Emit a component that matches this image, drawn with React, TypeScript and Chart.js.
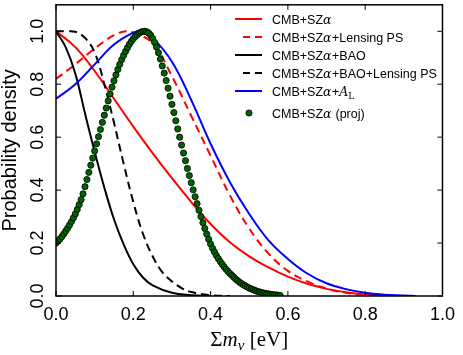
import React, { useEffect, useRef } from "react";
import { Chart, registerables } from "chart.js";
Chart.register(...registerables);

// ---- tick labels ----
const X_TICKS = [0.0, 0.2, 0.4, 0.6, 0.8, 1.0];
const Y_TICKS = [0.0, 0.2, 0.4, 0.6, 0.8, 1.0];

// ---- series names ----
const NAMES = [
  "CMB+SZα",
  "CMB+SZα+Lensing PS",
  "CMB+SZα+BAO",
  "CMB+SZα+BAO+Lensing PS",
  "CMB+SZα+A_L",
  "CMB+SZα (proj)",
];

// ---- CMB+SZα (red solid) ----
const cmbX = [0, 0.05, 0.1, 0.15, 0.2, 0.25, 0.3, 0.35, 0.4, 0.45, 0.5, 0.55, 0.6, 0.65, 0.7, 0.75, 0.8, 0.85, 0.9];
const cmbY = [1.0, 0.94, 0.85, 0.745, 0.64, 0.54, 0.445, 0.355, 0.272, 0.203, 0.15, 0.108, 0.073, 0.046, 0.027, 0.014, 0.006, 0.002, 0.0];

// ---- CMB+SZα+Lensing PS (red dashed) ----
const lensX = [0, 0.05, 0.1, 0.15, 0.18, 0.2, 0.25, 0.3, 0.35, 0.4, 0.45, 0.5, 0.55, 0.6, 0.65, 0.7, 0.75, 0.8, 0.85, 0.9];
const lensY = [0.82, 0.875, 0.935, 0.985, 1.0, 0.995, 0.955, 0.83, 0.68, 0.53, 0.38, 0.255, 0.16, 0.095, 0.055, 0.028, 0.012, 0.004, 0.001, 0.0];

// ---- CMB+SZα+BAO (black solid) ----
const baoX = [0, 0.025, 0.05, 0.075, 0.1, 0.125, 0.15, 0.175, 0.2, 0.225, 0.25, 0.3, 0.35, 0.4];
const baoY = [1.0, 0.94, 0.84, 0.69, 0.545, 0.41, 0.29, 0.195, 0.12, 0.07, 0.04, 0.012, 0.003, 0.0];

// ---- CMB+SZα+BAO+Lensing PS (black dashed) ----
const baoLensX = [0, 0.025, 0.05, 0.075, 0.1, 0.125, 0.15, 0.175, 0.2, 0.225, 0.25, 0.275, 0.3, 0.325, 0.35, 0.4, 0.45];
const baoLensY = [1.0, 1.0, 0.998, 0.975, 0.92, 0.8, 0.655, 0.5, 0.355, 0.235, 0.15, 0.09, 0.055, 0.03, 0.015, 0.003, 0.0];

// ---- CMB+SZα+A_L (blue) ----
const alX = [0, 0.05, 0.1, 0.15, 0.2, 0.22, 0.25, 0.3, 0.35, 0.4, 0.45, 0.5, 0.55, 0.6, 0.65, 0.7, 0.75, 0.8, 0.85, 0.9, 0.93];
const alY = [0.745, 0.8, 0.875, 0.95, 0.995, 1.0, 0.975, 0.885, 0.74, 0.575, 0.43, 0.31, 0.21, 0.14, 0.085, 0.048, 0.026, 0.012, 0.005, 0.002, 0.0];

// ---- CMB+SZα (proj) (green dots), sampled every 0.005 in Σmν ----
const PROJ_STEP = 0.005;
const projY = [
  0.200, 0.207, 0.215, 0.224, 0.234, 0.245, 0.256, 0.268, 0.281, 0.295,
  0.310, 0.327, 0.345, 0.364, 0.386, 0.413, 0.440, 0.467, 0.494, 0.521,
  0.548, 0.575, 0.602, 0.629, 0.656, 0.683, 0.710, 0.737, 0.763, 0.789,
  0.813, 0.835, 0.856, 0.875, 0.893, 0.909, 0.924, 0.938, 0.951, 0.962,
  0.972, 0.980, 0.987, 0.993, 0.997, 0.999, 1.000, 0.998, 0.993, 0.985,
  0.973, 0.958, 0.940, 0.919, 0.895, 0.869, 0.842, 0.814, 0.785, 0.755,
  0.724, 0.693, 0.662, 0.631, 0.600, 0.570, 0.540, 0.511, 0.482, 0.455,
  0.428, 0.401, 0.375, 0.349, 0.324, 0.300, 0.277, 0.255, 0.234, 0.214,
  0.196, 0.180, 0.166, 0.153, 0.141, 0.130, 0.120, 0.110, 0.101, 0.093,
  0.085, 0.078, 0.071, 0.064, 0.058, 0.052, 0.047, 0.042, 0.038, 0.034,
  0.030, 0.027, 0.024, 0.021, 0.018, 0.016, 0.014, 0.012, 0.010, 0.009,
  0.008, 0.006, 0.005, 0.004, 0.004, 0.003, 0.002,
];

const RED = "#ff0000";
const BLUE = "#0000ff";
const BLACK = "#000000";
const GREEN = "#006400";
const DASH = [8, 5];

const SANS = '"Liberation Sans", Arial, sans-serif';
const SERIF = '"DejaVu Serif", "Liberation Serif", serif';
const TSERIF = '"Liberation Serif", "DejaVu Serif", serif';

const zip = (xs: number[], ys: number[]) => xs.map((x, i) => ({ x, y: ys[i] }));

type Style = { color: string; dash: number[]; dot?: boolean };
const STYLES: Style[] = [
  { color: RED, dash: [] },
  { color: RED, dash: DASH },
  { color: BLACK, dash: [] },
  { color: BLACK, dash: DASH },
  { color: BLUE, dash: [] },
  { color: GREEN, dash: [], dot: true },
];

// draw a label where α is italic serif and A_L is italic A with subscript L
function drawRich(ctx: CanvasRenderingContext2D, text: string, x: number, y: number, size: number) {
  const parts = text.split(/(α|A_L)/).filter((p) => p.length > 0);
  let cx = x;
  ctx.textBaseline = "alphabetic";
  ctx.textAlign = "left";
  for (const p of parts) {
    if (p === "α") {
      ctx.font = `italic ${size}px ${SERIF}`;
      ctx.fillText("α", cx, y);
      cx += ctx.measureText("α").width + 0.5;
    } else if (p === "A_L") {
      ctx.font = `italic ${size}px ${SERIF}`;
      ctx.fillText("A", cx, y);
      cx += ctx.measureText("A").width;
      ctx.font = `${Math.round(size * 0.7)}px ${SERIF}`;
      ctx.fillText("L", cx, y + 3);
      cx += ctx.measureText("L").width;
    } else {
      ctx.font = `${size}px ${SANS}`;
      ctx.fillText(p, cx, y);
      cx += ctx.measureText(p).width;
    }
  }
}

const framePlugin = {
  id: "frameAndLegend",
  afterDatasetsDraw(chart: any) {
    const { ctx, chartArea: a, scales } = chart;
    const xs = scales.x;
    const ys = scales.y;
    ctx.save();
    // frame
    ctx.strokeStyle = BLACK;
    ctx.lineWidth = 1.5;
    ctx.setLineDash([]);
    ctx.strokeRect(a.left, a.top, a.right - a.left, a.bottom - a.top);
    // inward ticks on all sides
    ctx.lineWidth = 1;
    const L = 5;
    const seg = (x1: number, y1: number, x2: number, y2: number) => {
      ctx.beginPath();
      ctx.moveTo(x1, y1);
      ctx.lineTo(x2, y2);
      ctx.stroke();
    };
    X_TICKS.forEach((v) => {
      const px = xs.getPixelForValue(v);
      seg(px, a.bottom, px, a.bottom - L);
      seg(px, a.top, px, a.top + L);
    });
    Y_TICKS.forEach((v) => {
      const py = ys.getPixelForValue(v);
      seg(a.left, py, a.left + L, py);
      seg(a.right, py, a.right - L, py);
    });
    // rotated y tick labels
    ctx.fillStyle = BLACK;
    ctx.font = `18px ${SANS}`;
    Y_TICKS.forEach((v) => {
      const py = ys.getPixelForValue(v);
      ctx.save();
      ctx.translate(a.left - 13, py);
      ctx.rotate(-Math.PI / 2);
      ctx.textAlign = "center";
      ctx.textBaseline = "alphabetic";
      ctx.fillText(v.toFixed(1), 0, 0);
      ctx.restore();
    });
    // x title: Σ m_ν [eV]
    {
      const size = 21;
      const pieces = [
        { t: "Σ", f: `${size}px ${TSERIF}`, dy: 0 },
        { t: "m", f: `italic ${size}px ${TSERIF}`, dy: 0 },
        { t: "ν", f: `italic ${Math.round(size * 0.7)}px ${TSERIF}`, dy: 4 },
        { t: " [eV]", f: `${size}px ${TSERIF}`, dy: 0 },
      ];
      let total = 0;
      pieces.forEach((p) => {
        ctx.font = p.f;
        total += ctx.measureText(p.t).width;
      });
      let cx = (a.left + a.right) / 2 - total / 2;
      const base = a.bottom + 50;
      ctx.textAlign = "left";
      ctx.textBaseline = "alphabetic";
      pieces.forEach((p) => {
        ctx.font = p.f;
        ctx.fillText(p.t, cx, base + p.dy);
        cx += ctx.measureText(p.t).width;
      });
    }
    // legend
    const rowY = [19, 37, 55, 73, 91, 113];
    chart.data.datasets.forEach((ds: any, i: number) => {
      const st = STYLES[i];
      const y = rowY[i];
      if (st.dot) {
        ctx.beginPath();
        ctx.arc(249, y, 3.1, 0, Math.PI * 2);
        ctx.fillStyle = GREEN;
        ctx.fill();
        ctx.lineWidth = 0.8;
        ctx.strokeStyle = BLACK;
        ctx.stroke();
      } else {
        ctx.strokeStyle = st.color;
        ctx.lineWidth = 2;
        if (st.dash.length) {
          ctx.setLineDash([7, 5]);
          seg(243, y, 262, y);
          ctx.setLineDash([]);
        } else {
          seg(235, y, 262, y);
        }
      }
      ctx.fillStyle = BLACK;
      drawRich(ctx, ds.label, 272, y + 4.5, 12.5);
    });
    ctx.restore();
  },
};

export default function App() {
  const ref = useRef<HTMLCanvasElement | null>(null);
  useEffect(() => {
    if (!ref.current) return;
    const series = [
      zip(cmbX, cmbY),
      zip(lensX, lensY),
      zip(baoX, baoY),
      zip(baoLensX, baoLensY),
      zip(alX, alY),
      projY.map((y, i) => ({ x: i * PROJ_STEP, y })),
    ];
    const datasets: any[] = series.map((data, i) => {
      const st = STYLES[i];
      if (st.dot) {
        return {
          label: NAMES[i],
          data,
          showLine: false,
          pointRadius: 3.1,
          pointBackgroundColor: GREEN,
          pointBorderColor: BLACK,
          pointBorderWidth: 0.8,
          order: 1,
        };
      }
      return {
        label: NAMES[i],
        data,
        borderColor: st.color,
        backgroundColor: st.color,
        borderWidth: 2,
        borderDash: st.dash,
        pointRadius: 0,
        fill: false,
        tension: 0.4,
        order: 7 - i,
      };
    });
    const chart = new Chart(ref.current, {
      type: "line",
      data: { datasets },
      plugins: [framePlugin],
      options: {
        animation: false,
        responsive: false,
        devicePixelRatio: 1,
        layout: { padding: { top: 3, right: 15, left: 0, bottom: 0 } },
        plugins: { legend: { display: false }, tooltip: { enabled: false } },
        scales: {
          x: {
            type: "linear",
            min: 0,
            max: 1,
            afterBuildTicks: (s: any) => {
              s.ticks = X_TICKS.map((v) => ({ value: v }));
            },
            afterFit: (s: any) => {
              s.height = 59;
            },
            grid: { display: false, drawTicks: false },
            border: { display: false },
            ticks: {
              autoSkip: false,
              maxRotation: 0,
              padding: 8,
              color: BLACK,
              font: { family: SANS, size: 18 },
              callback: (v: any) => Number(v).toFixed(1),
            },
          },
          y: {
            type: "linear",
            min: 0,
            max: 1.1,
            afterBuildTicks: (s: any) => {
              s.ticks = Y_TICKS.map((v) => ({ value: v }));
            },
            afterFit: (s: any) => {
              s.width = 56;
            },
            grid: { display: false, drawTicks: false },
            border: { display: false },
            ticks: { display: false },
            title: {
              display: true,
              text: "Probability density",
              color: BLACK,
              font: { family: SANS, size: 20, lineHeight: 1.0 },
              padding: { top: 0, bottom: 0 },
            },
          },
        },
      },
    });
    return () => chart.destroy();
  }, []);
  return (
    <div style={{ position: "fixed", left: 0, top: 0, width: 463, height: 355, background: "#fff" }}>
      <canvas ref={ref} width={463} height={355} />
    </div>
  );
}
